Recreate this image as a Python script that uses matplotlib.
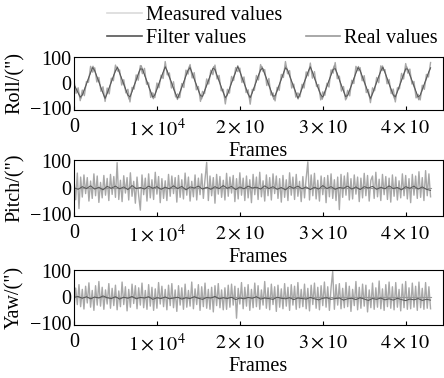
import numpy as np
import matplotlib
matplotlib.use("Agg")
from matplotlib import pyplot as plt
from matplotlib.lines import Line2D

# ---- data ----
n_frames = 43000

roll_measured = [10, -40, -18, -69, -27, -49, 7, 4, 67, 44,
                 61, 5, 23, -32, -14, -72, -19, -42, 20, 10,
                 72, 48, 53, -7, 14, -38, -24, -74, -16, -23,
                 33, 12, 70, 38, 59, -4, 2, -56, -38, -57,
                 1, -18, 32, 19, 86, 33, 41, -19, 6, -54,
                 -42, -57, -1, -17, 52, 36, 74, 21, 42, -26,
                 -13, -72, -32, -41, 17, -3, 52, 34, 72, 17,
                 31, -30, -24, -82, -24, -39, 27, 11, 62, 46,
                 60, 3, 25, -37, -26, -83, -24, -28, 31, 13,
                 74, 48, 54, -9, 19, -47, -38, -70, -16, -28,
                 35, 23, 86, 38, 50, -19, -3, -55, -38, -54,
                 -4, -19, 45, 29, 80, 20, 46, -13, -5, -66,
                 -34, -48, 0, -15, 53, 40, 82, 18, 28, -31,
                 -13, -66, -28, -50, 12, -1, 67, 49, 62, 10,
                 30, -37, -25, -77, -18, -30, 23, 2, 69, 50,
                 54, -2, 15, -41, -23, -74, -18, -22, 39, 17,
                 78, 40, 56, -3, 7, -58, -44, -66, -8, -24,
                 35, 25, 82]
roll_filter = [-5, -22, -38, -55, -47, -26, -3, 19, 42, 62,
               50, 27, 6, -18, -39, -60, -40, -17, 5, 28,
               49, 63, 41, 20, -4, -25, -47, -54, -33, -9,
               12, 36, 57, 56, 34, 11, -12, -33, -55, -46,
               -23, 1, 22, 43, 65, 48, 25, 4, -20, -41,
               -59, -38, -15, 6, 30, 51, 62, 40, 17, -6,
               -27, -49, -52, -30, -7, 14, 38, 59, 55, 31,
               10, -14, -35, -57, -45, -21, 2, 23, 45, 66,
               47, 23, 2, -21, -43, -57, -37, -14, 8, 31,
               53, 60, 38, 16, -7, -28, -51, -50, -29, -6,
               16, 39, 61, 53, 30, 8, -15, -36, -59, -43,
               -20, 3, 24, 47, 65, 45, 21, -1, -22, -45,
               -55, -34, -12, 10, 33, 55, 58, 37, 14, -9,
               -30, -53, -48, -27, -4, 18, 41, 62, 51, 29,
               6, -16, -38, -60, -41, -18, 4, 27, 48, 63,
               43, 20, -3, -24, -46, -54, -33, -10, 12, 35,
               57, 56, 34, 11, -11, -33, -55, -47, -25, -2,
               20, 42, 61]
roll_real_frames = [0, 835, 2290, 3745, 5200, 6655, 8110, 9565, 11020, 12475,
                    13930, 15385, 16840, 18295, 19750, 21205, 22660, 24115, 25570,
                    27025, 28480, 29935, 31390, 32845, 34300, 35755, 37210, 38665,
                    40120, 41575, 43000]
roll_real = [-5, -60, 68, -62, 66, -64, 70, -62, 67, -65,
             69, -63, 66, -64, 70, -62, 67, -65, 68,
             -63, 66, -64, 70, -62, 67, -65, 69, -63,
             66, -66, 62]

pitch_measured = [30, -45, 55, -78, 40, -35, 48, -22, 38, -50,
                  25, -40, 52, -30, 44, -55, 20, -38, 46, -28,
                  35, -48, 50, -25, 42, -36, 94, -44, 28, -52,
                  45, -20, 38, -46, 56, -32, 24, -58, 40, -30,
                  -84, 48, -26, 36, -50, 52, -38, 30, -44, 58,
                  -24, 42, -56, 34, -40, 26, -48, 50, -32, 44,
                  -22, 38, -54, 46, -36, 30, -42, 55, -28, 40,
                  -50, 24, -34, 48, -46, 36, -26, 52, -40, 32,
                  95, -48, 44, -30, 38, -58, 50, -24, 42, -36,
                  28, -46, 54, -32, 40, -20, 46, -52, 34, -42,
                  56, -28, 36, -48, 44, -38, 30, -56, 50, -26,
                  40, -44, 58, -34, 26, -50, 48, -30, 38, -46,
                  52, -22, 44, -40, 34, -54, 46, -36, 30, -48,
                  56, -28, 40, -44, 50, -32, 24, -52, 42, -38,
                  36, 97, -46, 48, -30, 54, -42, 28, -50, 44,
                  -26, 38, -56, 46, -34, 52, -40, 30, -48, 40,
                  -82, 50, -36, 44, -28, 56, -46, 34, -42, 48,
                  -24, 40, -52, 36, -38, 54, -30, 46, -50, 28,
                  44, -40, 58, -34, 32, -48, 50, -26, 42, -44,
                  36, -54, 48, -32, 40, -46, 26, -38, 52, -30,
                  46, -42, 34, -56, 50, -28, 44, -40, 60, -36,
                  38, -48, 64, -30, 52, -34]
pitch_filter = [0, -6, 4, -3, 7, -5, 2, -8, 5, -2, 6, -4, 3, -7, 8, -3, 1, -5,
                6, -2, 4, -6, 2, -4, 7, -3, 5, -8, 3, -1, 6, -5, 2, -6, 4, -3,
                8, -2, 5, -7, 3, -4, 6, -1, 2, -5, 7, -3, 4, -6, 1, -8, 5, -2,
                6, -4, 3, -7, 2, -5, 8, -3, 4, -6, 1, -2, 6, -5, 3, -7, 4, -1,
                5, -6, 2, -4, 7, -3, 1, -8, 4, -2, 6, -5, 3, -6, -10]
pitch_real_frames = [0, 43000]
pitch_real = [0, 0]

yaw_measured = [-40, 35, -28, 48, -36, 30, -45, 42, -22, 55,
                -38, 26, -50, 44, -30, 60, -34, 38, -46, 28,
                -26, 52, -42, 34, -32, 46, -48, 24, -36, 58,
                -28, 40, -52, 30, -38, 50, -24, 44, -44, 36,
                -30, 54, -40, 26, -46, 48, -34, 38, -50, 32,
                -42, 56, -26, 42, -36, 30, -48, 46, -32, 52,
                -40, 28, -54, 44, -30, 36, -46, 50, -38, 26,
                -34, 58, -44, 32, -28, 48, -50, 40, -36, 54,
                -42, 30, -46, 38, -56, 44, -32, 52, -40, 28,
                -48, 36, -46, 46, -38, 50, -30, 42, -80, 34,
                -26, 56, -44, 38, -34, 48, -50, 30, -40, 54,
                -36, 44, -46, 28, -30, 60, -42, 36, -48, 50,
                -28, 40, -54, 46, -38, 32, -44, 52, -34, 38,
                -50, 48, -30, 42, -46, 56, -40, 30, -36, 50,
                -44, 34, -52, 46, -28, 54, -42, 38, -48, 44,
                -32, 58, -38, 40, -50, 36, 98, -46, 48, -30,
                52, -44, 34, -40, 56, -36, 42, -54, 30, -32,
                60, -48, 38, -42, 50, -34, 46, -56, 28, -40,
                54, -46, 36, -38, 62, -44, 32, -50, 48, -36,
                58, -42, 40, -48, 56, -38, 30, -52, 50, -40,
                60, -46, 36, -44, 54, -38, 42, -50, 58, -40,
                34, -46, 56, -42, 40, -44]
yaw_filter = [0, 3, -4, 2, -6, 1, -3, 5, -2, -5, 2, -7, 0, -4, 3, -6, -1, -3,
              2, -8, -2, -5, 1, -6, -3, 0, -7, -2, -5, 2, -4, -8, -1, -3, 3,
              -6, -2, -5, 0, -9, -3, -6, -1, -4, 2, -7, -3, -5, -8, 0, -4, -6,
              -2, -9, -3, -5, -7, -1, -6, -10, -4, -2, -8, -5, -3, -11, -6, -4,
              -9, -2, -7, -12, -5, -8, -3, -10, -6, -11, -4, -9, -13, -7, -10,
              -5, -12, -8, -11]
yaw_real_frames = [0, 43000]
yaw_real = [0, 0]

panels = [("Roll", roll_measured, roll_filter, roll_real_frames, roll_real),
          ("Pitch", pitch_measured, pitch_filter, pitch_real_frames, pitch_real),
          ("Yaw", yaw_measured, yaw_filter, yaw_real_frames, yaw_real)]

xticks = [0, 10000, 20000, 30000, 40000]
xticklabels = ["0", r"$1\times10^4$", r"$2\times10$", r"$3\times10$", r"$4\times10$"]
yticks = [-100, 0, 100]

c_meas_legend = "#dadada"
c_meas = "#a8a8a8"
c_filt = "#555555"
c_real = "#9a9a9a"

plt.rcParams["font.family"] = ["Liberation Serif", "DejaVu Serif"]
plt.rcParams["mathtext.fontset"] = "stix"
plt.rcParams["font.size"] = 14.5

W, H = 444, 378
fig = plt.figure(figsize=(W / 100, H / 100), dpi=100)

# axes boxes in pixels: (top, bottom)
boxes = [(57, 110), (160, 216), (270, 325)]
left, right = 74, 443

for (name, meas, filt, rf, rv), (top, bot) in zip(panels, boxes):
    ax = fig.add_axes([left / W, 1 - bot / H, (right - left) / W, (bot - top) / H])
    ax.plot(np.linspace(0, n_frames, len(meas)), meas, color=c_meas, lw=1.0)
    ax.plot(rf, rv, color=c_real, lw=0.8)
    ax.plot(np.linspace(0, n_frames, len(filt)), filt, color=c_filt, lw=0.7)
    ax.set_xlim(0, 44500)
    ax.set_ylim(-106, 104)
    ax.set_xticks(xticks)
    ax.set_xticklabels(xticklabels)
    ax.set_yticks(yticks)
    ax.tick_params(direction="in", length=3, width=0.8, pad=6)
    ax.tick_params(axis="y", length=0, pad=2)
    ax.set_xlabel("Frames", labelpad=1)
    for s in ax.spines.values():
        s.set_linewidth(0.8)
    fig.text(15 / W, 1 - (top + bot) / 2 / H, name + '/(")', rotation=90,
             ha="center", va="center")

handles = [Line2D([], [], color=c_meas_legend, lw=1.2),
           Line2D([], [], color=c_filt, lw=1.2),
           Line2D([], [], color="none", lw=0),
           Line2D([], [], color=c_real, lw=1.2)]
fig.legend(handles, ["Measured values", "Filter values", "", "Real values"],
           ncol=2, loc="upper right", bbox_to_anchor=(1.0, 1.0),
           frameon=False, handlelength=1.7, handletextpad=0.2,
           columnspacing=1.2, labelspacing=0.2, borderpad=0.1, borderaxespad=0.2)

plt.savefig("out.png", dpi=100)
